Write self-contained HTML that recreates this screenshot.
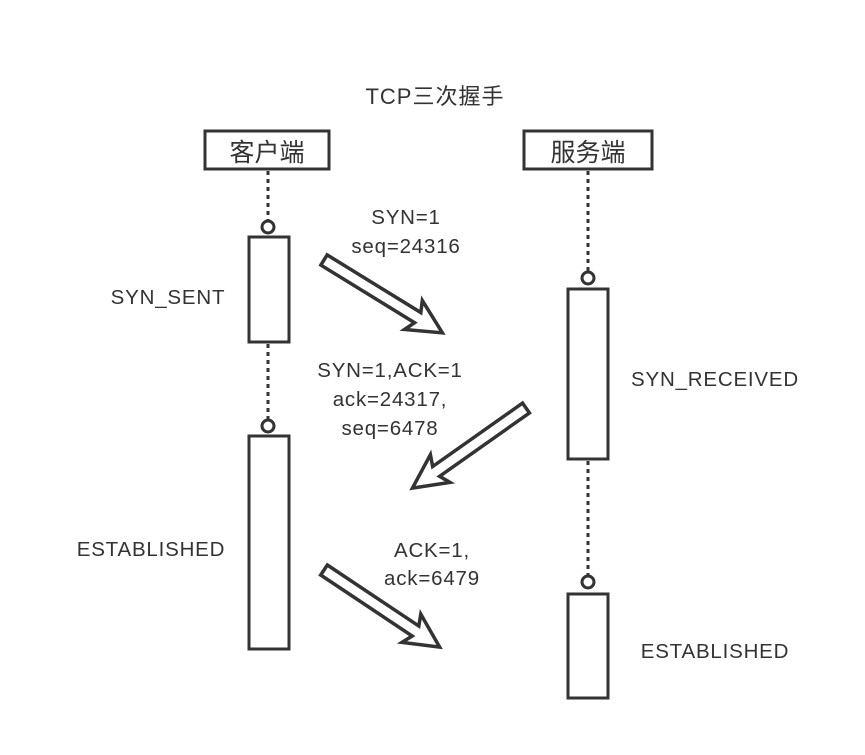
<!DOCTYPE html>
<html><head><meta charset="utf-8"><style>
html,body{margin:0;padding:0;background:#fff;}
svg text{font-family:"Liberation Sans","Noto Sans CJK SC",sans-serif;fill:#333;}
</style></head><body>
<svg width="865" height="750" viewBox="0 0 865 750" xmlns="http://www.w3.org/2000/svg">
<defs>
<path id="ar" d="M0,-6 L110,-6 L105,-17 L139,0 L105,17 L110,6 L0,6 Z" fill="#fff" stroke="#333" stroke-width="3.5" stroke-linejoin="miter"/>
</defs>
<text x="435" y="104" font-size="22" letter-spacing="1" text-anchor="middle">TCP三次握手</text>
<rect x="205" y="131" width="124" height="38" fill="#fff" stroke="#333" stroke-width="3"/>
<text x="267" y="161" font-size="25" text-anchor="middle">客户端</text>
<rect x="524" y="131" width="128" height="38" fill="#fff" stroke="#333" stroke-width="3"/>
<text x="588" y="161" font-size="25" text-anchor="middle">服务端</text>
<g stroke="#333" stroke-width="3" stroke-dasharray="4,4" fill="none">
<line x1="268" y1="171" x2="268" y2="220"/>
<line x1="268" y1="344" x2="268" y2="419"/>
<line x1="588" y1="171" x2="588" y2="271"/>
<line x1="588" y1="461" x2="588" y2="575"/>
</g>
<g stroke="#333" stroke-width="3" fill="#fff">
<circle cx="268" cy="227" r="6"/>
<rect x="249" y="237" width="40" height="105"/>
<circle cx="268" cy="426" r="6"/>
<rect x="249" y="436" width="40" height="213"/>
<circle cx="588" cy="278" r="6"/>
<rect x="568" y="289" width="40" height="170"/>
<circle cx="588" cy="582" r="6"/>
<rect x="568" y="594" width="40" height="104"/>
</g>
<use href="#ar" transform="translate(324,260) rotate(31.6)"/>
<use href="#ar" transform="translate(526,408) rotate(144.8)"/>
<use href="#ar" transform="translate(324,570) rotate(33.7)"/>
<g font-size="20.5" letter-spacing="0.8">
<text x="406" y="224" text-anchor="middle">SYN=1</text>
<text x="406" y="253" text-anchor="middle">seq=24316</text>
<text x="168" y="304" text-anchor="middle">SYN_SENT</text>
<text x="390" y="377" text-anchor="middle">SYN=1,ACK=1</text>
<text x="390" y="406" text-anchor="middle">ack=24317,</text>
<text x="390" y="435" text-anchor="middle">seq=6478</text>
<text x="715" y="386" text-anchor="middle">SYN_RECEIVED</text>
<text x="151" y="556" text-anchor="middle">ESTABLISHED</text>
<text x="432" y="557" text-anchor="middle">ACK=1,</text>
<text x="432" y="585" text-anchor="middle">ack=6479</text>
<text x="715" y="658" text-anchor="middle">ESTABLISHED</text>
</g>
</svg>
</body></html>
